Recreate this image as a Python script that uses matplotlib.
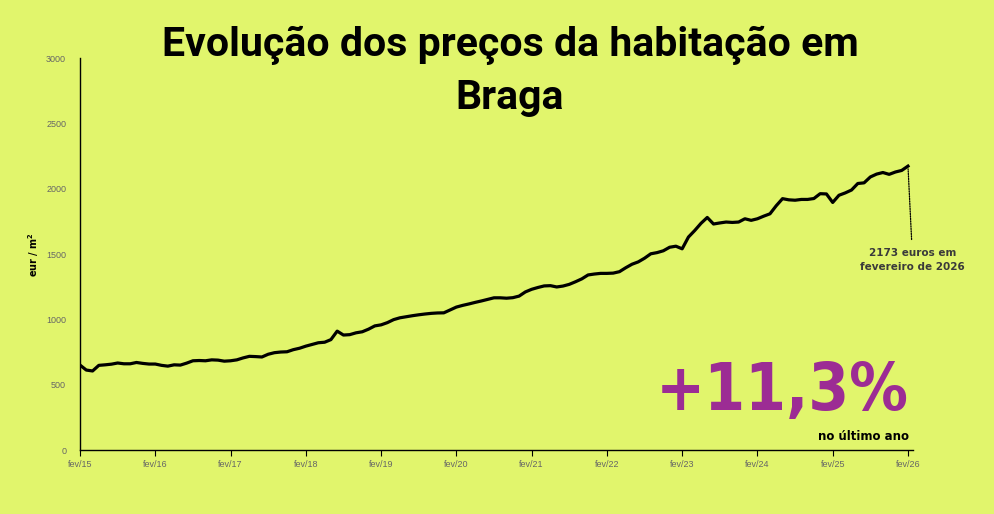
import matplotlib
matplotlib.use("Agg")
import matplotlib.pyplot as plt
import numpy as np

# ==========================================
# DADOS (preço mensal, eur/m2, fev/15 -> fev/26)
# ==========================================

precos = [
    650, 612, 605, 648, 652, 657, 666, 660, 660, 670, 663, 658,
    658, 648, 642, 652, 650, 665, 683, 685, 683, 690, 688, 680,
    683, 690, 705, 717, 715, 712, 733, 745, 750, 752, 768, 779,
    795, 808, 821, 825, 845, 910, 880, 883, 897, 905, 925, 950,
    958, 975, 998, 1012, 1020, 1028, 1035, 1041, 1046, 1049, 1050, 1072,
    1094, 1107, 1118, 1130, 1141, 1153, 1165, 1165, 1162, 1166, 1178, 1210,
    1230, 1244, 1256, 1258, 1248, 1255, 1268, 1288, 1310, 1340, 1347, 1352,
    1352, 1354, 1365, 1395, 1422, 1440, 1468, 1502, 1511, 1525, 1552, 1560,
    1540, 1630, 1680, 1735, 1780, 1730, 1738, 1745, 1742, 1745, 1770, 1758,
    1770, 1790, 1808, 1870, 1924, 1915, 1912, 1918, 1918, 1925, 1962, 1960,
    1895, 1950, 1968, 1990, 2040, 2045, 2090, 2112, 2124, 2110, 2128, 2140,
    2173,
]

etiquetas_x = ["fev/15", "fev/16", "fev/17", "fev/18", "fev/19", "fev/20",
               "fev/21", "fev/22", "fev/23", "fev/24", "fev/25", "fev/26"]
ticks_y = [0, 500, 1000, 1500, 2000, 2500, 3000]

variacao = "+11,3%"

# ==========================================
# FIGURA
# ==========================================

fundo = "#e1f56c"
roxo = "#9c2c94"
cinza = "#666666"

fig = plt.figure(figsize=(9.94, 5.14), dpi=100, facecolor=fundo)
ax = fig.add_axes([0.0805, 0.1245, 0.838, 0.7625], facecolor=fundo)

meses = np.arange(len(precos))
ax.plot(meses, precos, color="black", lw=2.3, solid_joinstyle="round")

ax.set_xlim(0, 132.8)
ax.set_ylim(0, 3000)

ax.set_xticks(np.arange(0, 133, 12))
ax.set_xticklabels(etiquetas_x, fontsize=6.5, color=cinza, family="Liberation Sans")
ax.set_yticks(ticks_y)
ax.set_yticklabels([str(v) for v in ticks_y], fontsize=6.5, color=cinza,
                   family="Liberation Sans")
ax.tick_params(axis="y", length=0, pad=10)
ax.tick_params(axis="x", length=4, width=0.8, color="black", pad=3)

for lado in ["top", "right"]:
    ax.spines[lado].set_visible(False)
for lado in ["left", "bottom"]:
    ax.spines[lado].set_linewidth(1.0)
    ax.spines[lado].set_color("black")

ax.set_ylabel("eur / m$^\\mathbf{2}$", fontsize=7, fontweight="bold", labelpad=4)

# Titulo
fig.text(0.513, 0.861, "Evolução dos preços da habitação em\nBraga",
         ha="center", va="center", fontsize=29.5, fontweight="bold",
         family="Roboto", linespacing=1.45)

# Anotacao do ultimo valor
ultimo = meses[-1]
ax.annotate("", xy=(ultimo, precos[-1]), xytext=(ultimo + 0.6, 1590),
            arrowprops=dict(arrowstyle="-", ls=(0, (1, 1)), lw=0.9, color="black"))
ax.text(ultimo + 0.7, 1455, "2173 euros em\nfevereiro de 2026", ha="center", va="center",
        fontsize=7.5, fontweight="bold", color="#3a3a3a", linespacing=1.6)

# Variacao anual
ax.text(132.2, 445, variacao, ha="right", va="center", fontsize=47,
        fontweight="bold", fontstretch="condensed", color=roxo, family="DejaVu Sans")
ax.text(132.2, 100, "no último ano", ha="right", va="center", fontsize=8.5,
        fontweight="bold", color="black")

fig.savefig("out.png", dpi=100, facecolor=fundo)
